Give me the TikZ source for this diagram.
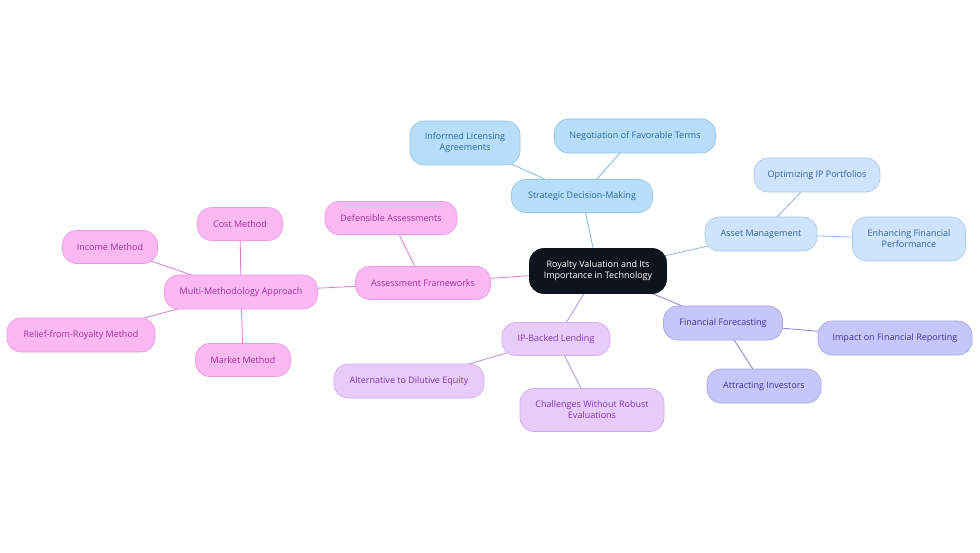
\documentclass[tikz,border=0pt]{standalone}
\usepackage{fontspec}
\setmainfont{Open Sans}
\definecolor{rootfill}{HTML}{0F141C}
\definecolor{bfill}{HTML}{B8DDF8}
\definecolor{bdraw}{HTML}{8CC4EC}
\definecolor{btext}{HTML}{2A6BA6}
\definecolor{bedge}{HTML}{7DB9E2}
\definecolor{lbfill}{HTML}{CFE3FA}
\definecolor{lbdraw}{HTML}{A7C8EE}
\definecolor{lbtext}{HTML}{2F63A8}
\definecolor{lbedge}{HTML}{8FB3E3}
\definecolor{vfill}{HTML}{C6C6F8}
\definecolor{vdraw}{HTML}{A6A4EC}
\definecolor{vtext}{HTML}{3E36A6}
\definecolor{vedge}{HTML}{8883D4}
\definecolor{pfill}{HTML}{E7CCFA}
\definecolor{pdraw}{HTML}{CFA8F0}
\definecolor{ptext}{HTML}{8535B8}
\definecolor{pedge}{HTML}{B98CDE}
\definecolor{kfill}{HTML}{FBB9F3}
\definecolor{kdraw}{HTML}{EE95E4}
\definecolor{ktext}{HTML}{A42D9C}
\definecolor{kedge}{HTML}{E07BD5}
\tikzset{
  box/.style={rounded corners=14pt, align=center, inner sep=2pt, line width=0.6pt,
    font=\fontsize{9}{10.8}\selectfont},
  rootbox/.style={box, fill=rootfill, draw=rootfill, text=white},
  bbox/.style={box, fill=bfill, draw=bdraw, text=btext},
  lbbox/.style={box, fill=lbfill, draw=lbdraw, text=lbtext},
  vbox/.style={box, fill=vfill, draw=vdraw, text=vtext},
  pbox/.style={box, fill=pfill, draw=pdraw, text=ptext},
  kbox/.style={box, fill=kfill, draw=kdraw, text=ktext},
  edge/.style={line width=0.8pt},
}
\begin{document}
\begin{tikzpicture}[x=1pt,y=-1pt]
\useasboundingbox[fill=white] (0,0) rectangle (980,553);
\coordinate (cR) at (598,271);
\coordinate (cS) at (582,196);
\coordinate (cIL) at (465,143);
\coordinate (cNF) at (635,136);
\coordinate (cAM) at (761,234);
\coordinate (cOP) at (817,175);
\coordinate (cEF) at (909,239);
\coordinate (cFF) at (723,323);
\coordinate (cIF) at (895,338);
\coordinate (cAI) at (764,386);
\coordinate (cIP) at (556,339);
\coordinate (cAD) at (409,381);
\coordinate (cCW) at (592,410);
\coordinate (cAF) at (423,283);
\coordinate (cDA) at (391,218);
\coordinate (cMM) at (241,292);
\coordinate (cCM) at (240,224);
\coordinate (cIM) at (110,247);
\coordinate (cRR) at (81,335);
\coordinate (cMK) at (243,360);

\draw[edge, bedge] (cR) -- (cS);
\draw[edge, bedge] (cS) -- (cIL);
\draw[edge, bedge] (cS) -- (cNF);
\draw[edge, lbedge] (cR) -- (cAM);
\draw[edge, lbedge] (cAM) -- (cOP);
\draw[edge, lbedge] (cAM) -- (cEF);
\draw[edge, vedge] (cR) -- (cFF);
\draw[edge, vedge] (cFF) -- (cIF);
\draw[edge, vedge] (cFF) -- (cAI);
\draw[edge, pedge] (cR) -- (cIP);
\draw[edge, pedge] (cIP) -- (cAD);
\draw[edge, pedge] (cIP) -- (cCW);
\draw[edge, kedge] (cR) -- (cAF);
\draw[edge, kedge] (cAF) -- (cDA);
\draw[edge, kedge] (cAF) -- (cMM);
\draw[edge, kedge] (cMM) -- (cCM);
\draw[edge, kedge] (cMM) -- (cIM);
\draw[edge, kedge] (cMM) -- (cRR);
\draw[edge, kedge] (cMM) -- (cMK);

\node[rootbox, minimum width=137pt, minimum height=45pt] (R) at (cR) {Royalty Valuation and Its\\Importance in Technology};
\node[bbox, minimum width=141pt, minimum height=33pt] (S) at (cS) {Strategic Decision-Making};
\node[bbox, minimum width=110pt, minimum height=44pt] (IL) at (cIL) {Informed Licensing\\Agreements};
\node[bbox, minimum width=161pt, minimum height=34pt] (NF) at (cNF) {Negotiation of Favorable Terms};
\node[lbbox, minimum width=112pt, minimum height=34pt] (AM) at (cAM) {Asset Management};
\node[lbbox, minimum width=126pt, minimum height=34pt] (OP) at (cOP) {Optimizing IP Portfolios};
\node[lbbox, minimum width=113pt, minimum height=44pt] (EF) at (cEF) {Enhancing Financial\\Performance};
\node[vbox, minimum width=119pt, minimum height=34pt] (FF) at (cFF) {Financial Forecasting};
\node[vbox, minimum width=154pt, minimum height=34pt] (IF) at (cIF) {Impact on Financial Reporting};
\node[vbox, minimum width=114pt, minimum height=34pt] (AI) at (cAI) {Attracting Investors};
\node[pbox, minimum width=108pt, minimum height=33pt] (IP) at (cIP) {IP-Backed Lending};
\node[pbox, minimum width=150pt, minimum height=34pt] (AD) at (cAD) {Alternative to Dilutive Equity};
\node[pbox, minimum width=144pt, minimum height=43pt] (CW) at (cCW) {Challenges Without Robust\\Evaluations};
\node[kbox, minimum width=135pt, minimum height=33pt] (AF) at (cAF) {Assessment Frameworks};
\node[kbox, minimum width=132pt, minimum height=33pt] (DA) at (cDA) {Defensible Assessments};
\node[kbox, minimum width=153pt, minimum height=34pt] (MM) at (cMM) {Multi-Methodology Approach};
\node[kbox, minimum width=85pt, minimum height=33pt] (CM) at (cCM) {Cost Method};
\node[kbox, minimum width=95pt, minimum height=33pt] (IM) at (cIM) {Income Method};
\node[kbox, minimum width=148pt, minimum height=34pt] (RR) at (cRR) {Relief-from-Royalty Method};
\node[kbox, minimum width=95pt, minimum height=33pt] (MK) at (cMK) {Market Method};
\end{tikzpicture}
\end{document}
